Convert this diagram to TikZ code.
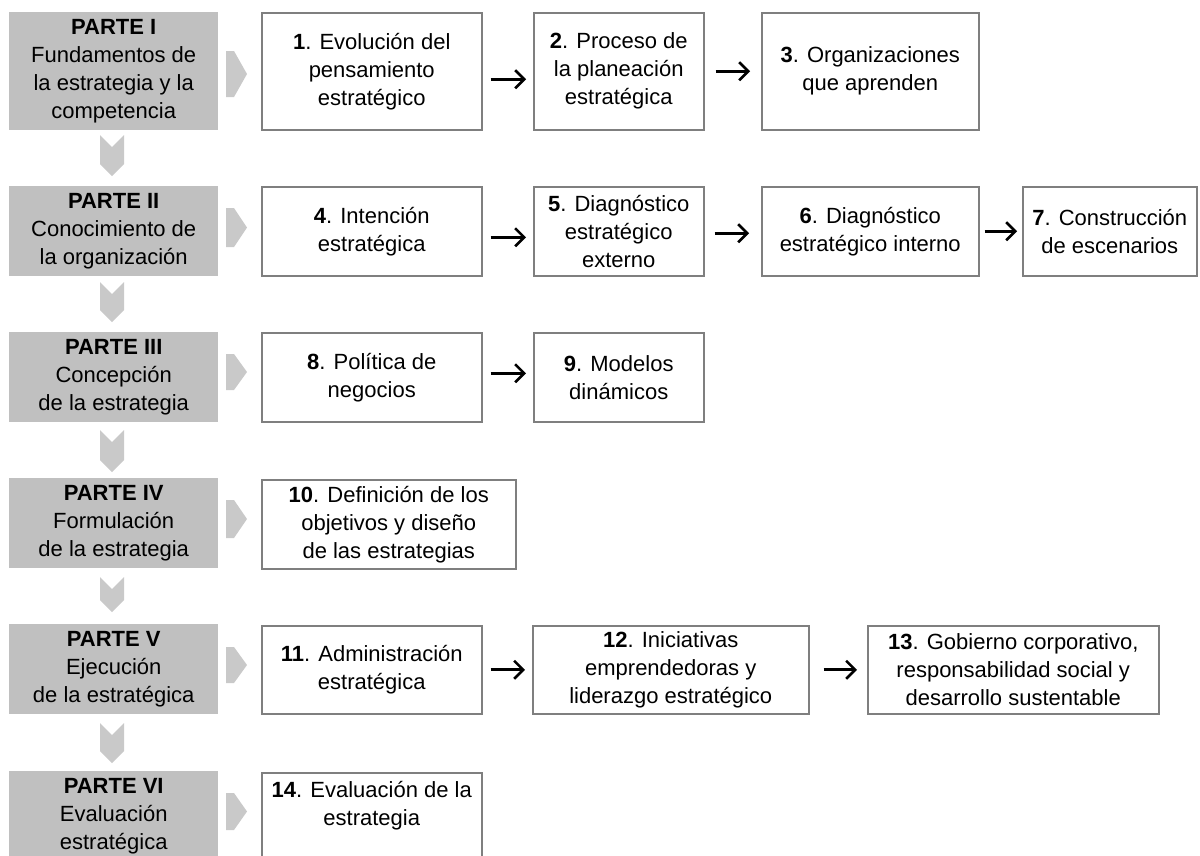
\documentclass[tikz,border=0pt]{standalone}
\usepackage{fontspec}
\setmainfont{Liberation Sans}
\usetikzlibrary{arrows.meta}
\definecolor{partgray}{HTML}{C0C0C0}
\definecolor{chevgray}{HTML}{C9C9C9}
\definecolor{framegray}{HTML}{7F7F7F}
\tikzset{
  txt/.style={font=\fontsize{22}{28}\selectfont, align=center},
  gbox/.style={txt, fill=partgray, draw=none, inner sep=0pt, anchor=north west, minimum width=209pt},
  wbox/.style={txt, draw=framegray, line width=1.5pt, fill=white, inner sep=0pt, anchor=north west},
  conn/.style={-{Straight Barb[length=9pt,width=18pt,line width=2.6pt]}, line width=2.6pt, black, shorten <=8pt, shorten >=7pt},
  chev/.style={fill=chevgray, draw=none}
}
\begin{document}
\begin{tikzpicture}[x=1pt,y=-1pt]
\path[use as bounding box, clip] (0,0) rectangle (1200,855);
\fill[white] (0,0) rectangle (1200,855);

% Parts (gray boxes)
\node[gbox, minimum height=118pt] (p1) at (9,12) {\textbf{PARTE I}\\Fundamentos de\\la estrategia y la\\competencia};
\node[gbox, minimum height=90pt] (p2) at (9,186) {\textbf{PARTE II}\\Conocimiento de\\la organización};
\node[gbox, minimum height=90pt] (p3) at (9,332) {\textbf{PARTE III}\\Concepción\\de la estrategia};
\node[gbox, minimum height=90pt] (p4) at (9,478) {\textbf{PARTE IV}\\Formulación\\de la estrategia};
\node[gbox, minimum height=90pt] (p5) at (9,624) {\textbf{PARTE V}\\Ejecución\\de la estratégica};
\node[gbox, minimum height=90pt] (p6) at (9,771) {\textbf{PARTE VI}\\Evaluación\\estratégica};

% Right chevrons
\foreach \t/\b in {51/97, 208/247, 354/390, 500/538, 647/683, 793/830}{
  \fill[chev] (226,\t) -- (234,\t) -- (247,{(\t+\b)/2}) -- (234,\b) -- (226,\b) -- cycle;
}
% Down chevrons
\foreach \t/\b in {135/176, 282/322, 430/472, 577/612, 723/763}{
  \fill[chev] (100,\t) -- (112,\t+12) -- (124,\t) -- (124,\b-12) -- (112,\b) -- (100,\b-12) -- cycle;
}

% Row 1
\node[wbox, minimum width=220pt, minimum height=117pt] (b1) at (261,12) {\textbf{1}. Evolución del\\pensamiento\\estratégico};
\node[wbox, minimum width=170pt, minimum height=117pt] (b2) at (533,12) {\textbf{2}. Proceso de\\la planeación\\estratégica};
\node[wbox, minimum width=217pt, minimum height=117pt] (b3) at (761,12) {\textbf{3}. Organizaciones\\que aprenden};
\draw[conn] ([yshift=-8pt]b1.east) -- ([yshift=-8pt]b2.west);
\draw[conn, shorten <=11pt, shorten >=11pt] (b2) -- (b3);

% Row 2
\node[wbox, minimum width=220pt, minimum height=89pt] (b4) at (261,186) {\textbf{4}. Intención\\estratégica};
\node[wbox, minimum width=170pt, minimum height=89pt] (b5) at (533,186) {\textbf{5}. Diagnóstico\\estratégico\\externo};
\node[wbox, minimum width=217pt, minimum height=89pt] (b6) at (761,186) {\textbf{6}. Diagnóstico\\estratégico interno};
\node[wbox, minimum width=174pt, minimum height=89pt] (b7) at (1022,186) {\textbf{7}. Construcción\\de escenarios};
\draw[conn] ([yshift=-6pt]b4.east) -- ([yshift=-6pt]b5.west);
\draw[conn, shorten <=10pt, shorten >=12pt] ([yshift=-2pt]b5.east) -- ([yshift=-2pt]b6.west);
\draw[conn, shorten <=5pt, shorten >=5pt] (b6) -- (b7);

% Row 3
\node[wbox, minimum width=220pt, minimum height=89pt] (b8) at (261,332) {\textbf{8}. Política de\\negocios};
\node[wbox, minimum width=170pt, minimum height=89pt] (b9) at (533,332) {\textbf{9}. Modelos\\dinámicos};
\draw[conn] ([yshift=4pt]b8.east) -- ([yshift=4pt]b9.west);

% Row 4
\node[wbox, minimum width=254pt, minimum height=89pt] (b10) at (261,479) {\textbf{10}. Definición de los\\objetivos y diseño\\de las estrategias};

% Row 5
\node[wbox, minimum width=220pt, minimum height=88pt] (b11) at (261,625) {\textbf{11}. Administración\\estratégica};
\node[wbox, minimum width=276pt, minimum height=88pt] (b12) at (532,625) {\textbf{12}. Iniciativas\\emprendedoras y\\liderazgo estratégico};
\node[wbox, minimum width=291pt, minimum height=88pt] (b13) at (867,625) {\textbf{13}. Gobierno corporativo,\\responsabilidad social y\\desarrollo sustentable};
\draw[conn] (b11) -- (b12);
\draw[conn, shorten <=14pt, shorten >=10pt] (b12) -- (b13);

% Row 6
\node[wbox, minimum width=220pt, minimum height=90pt] (b14) at (261,772) {};
\node[txt, inner sep=0pt] (b14t) at ([yshift=-34pt]b14.north) {\textbf{14}. Evaluación de la\\estrategia};
\end{tikzpicture}
\end{document}
